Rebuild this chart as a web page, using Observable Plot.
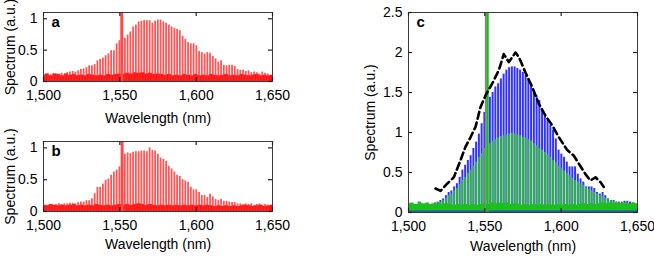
<!DOCTYPE html>
<html><head><meta charset="utf-8">
<script src="https://cdn.jsdelivr.net/npm/d3@7"></script>
<script src="https://cdn.jsdelivr.net/npm/@observablehq/plot@0.6"></script>
<style>
html,body{margin:0;padding:0;background:#fff;}
#wrap{position:relative;width:654px;height:257px;overflow:hidden;}
.panel{position:absolute;}
.panel svg{overflow:visible;}
</style></head><body><div id="wrap"></div>
<script>
// ---------- data ----------
const xTicks = [1500, 1550, 1600, 1650];
const yTicksAB = [0, 0.5, 1];
const yTicksC = [0, 0.5, 1, 1.5, 2, 2.5];
const xLabel = "Wavelength (nm)";
const yLabel = "Spectrum (a.u.)";

// comb line wavelengths (nm), pump excluded
const combWl = [1501.1,1502.9,1504.7,1506.5,1508.3,1510.1,1511.9,1513.7,1515.5,1517.3,1519.1,1520.9,1522.7,1524.5,1526.3,1528.1,1529.9,1531.7,1533.5,1535.3,1537.1,1538.9,1540.7,1542.5,1544.3,1546.1,1547.9,1549.7,
1553.3,1555.1,1556.9,1558.7,1560.5,1562.3,1564.1,1565.9,1567.7,1569.5,1571.3,1573.1,1574.9,
1576.7,1578.5,1580.3,1582.1,1583.9,1585.7,1587.5,1589.3,1591.1,1592.9,1594.7,1596.5,1598.3,1600.1,1601.9,1603.7,1605.5,1607.3,1609.1,1610.9,1612.7,1614.5,1616.3,1618.1,1619.9,1621.7,1623.5,1625.3,1627.1,1628.9,1630.7,1632.5,1634.3,1636.1,1637.9,1639.7,1641.5,1643.3,1645.1,1646.9];

const combA = [0.11,0.12,0.11,0.13,0.12,0.12,0.13,0.12,0.14,0.15,0.16,0.15,0.17,0.19,0.2,0.22,0.25,0.25,0.27,0.33,0.35,0.37,0.41,0.44,0.49,0.49,0.6,0.65,
0.69,0.74,0.79,0.87,0.9,0.95,0.96,0.97,0.97,0.97,0.93,0.96,0.98,
0.98,0.95,0.93,0.9,0.87,0.85,0.83,0.81,0.72,0.67,0.62,0.6,0.6,0.57,0.48,0.46,0.44,0.46,0.45,0.4,0.36,0.31,0.33,0.26,0.25,0.26,0.26,0.24,0.19,0.18,0.18,0.16,0.17,0.14,0.15,0.14,0.12,0.15,0.13,0.12];

const combB = [0.1,0.1,0.11,0.1,0.11,0.12,0.11,0.12,0.12,0.13,0.13,0.12,0.14,0.15,0.15,0.17,0.17,0.2,0.28,0.38,0.38,0.43,0.49,0.51,0.57,0.62,0.65,0.7,
0.9,0.92,0.91,0.93,0.94,0.94,0.95,0.95,0.94,1.0,0.96,0.95,0.9,
0.84,0.82,0.79,0.71,0.67,0.62,0.57,0.55,0.5,0.48,0.46,0.38,0.34,0.34,0.3,0.25,0.25,0.22,0.27,0.23,0.19,0.17,0.19,0.16,0.16,0.15,0.14,0.14,0.12,0.12,0.11,0.12,0.11,0.12,0.1,0.11,0.12,0.1,0.11,0.1];

const combCBlue = [0.06,0.06,0.07,0.07,0.08,0.08,0.09,0.1,0.1,0.12,0.13,0.15,0.17,0.21,0.25,0.27,0.32,0.36,0.44,0.53,0.59,0.65,0.71,0.8,0.88,0.98,1.11,1.25,
1.44,1.5,1.57,1.61,1.67,1.73,1.78,1.81,1.82,1.82,1.8,1.78,1.75,
1.72,1.67,1.61,1.5,1.46,1.4,1.3,1.21,1.15,1.09,1.03,0.92,0.78,0.73,0.69,0.63,0.57,0.57,0.57,0.48,0.42,0.38,0.32,0.32,0.32,0.3,0.25,0.23,0.25,0.21,0.17,0.15,0.15,0.13,0.13,0.13,0.14,0.14,0.13,0.12];

const combCGreen = [0.08,0.09,0.08,0.09,0.1,0.09,0.1,0.1,0.11,0.11,0.12,0.13,0.15,0.18,0.21,0.23,0.27,0.3,0.35,0.4,0.44,0.49,0.53,0.58,0.63,0.69,0.74,0.8,
0.86,0.89,0.91,0.93,0.95,0.96,0.97,0.98,0.99,0.98,0.97,0.96,0.94,
0.93,0.91,0.89,0.86,0.83,0.8,0.78,0.75,0.72,0.69,0.65,0.62,0.58,0.55,0.52,0.49,0.46,0.43,0.4,0.38,0.36,0.34,0.31,0.29,0.27,0.25,0.23,0.21,0.2,0.18,0.17,0.15,0.14,0.13,0.12,0.12,0.11,0.11,0.1,0.1];

// noise floor (sampled every 2.5 nm)
const noiseWl = [1500,1502.5,1505,1507.5,1510,1512.5,1515,1517.5,1520,1522.5,1525,1527.5,1530,1532.5,1535,1537.5,1540,1542.5,1545,1547.5,1550,1552.5,1555,1557.5,1560,1562.5,1565,1567.5,1570,1572.5,1575,1577.5,1580,1582.5,1585,1587.5,1590,1592.5,1595,1597.5,1600,1602.5,1605,1607.5,1610,1612.5,1615,1617.5,1620,1622.5,1625,1627.5,1630,1632.5,1635,1637.5,1640,1642.5,1645,1647.5,1650];
const noiseA = [0.1,0.12,0.09,0.12,0.11,0.09,0.12,0.1,0.11,0.09,0.1,0.09,0.11,0.1,0.09,0.1,0.09,0.11,0.1,0.11,0.12,0.12,0.13,0.12,0.14,0.13,0.14,0.12,0.13,0.11,0.12,0.11,0.1,0.11,0.09,0.1,0.09,0.11,0.1,0.09,0.11,0.09,0.1,0.09,0.11,0.1,0.09,0.1,0.11,0.09,0.1,0.09,0.11,0.1,0.09,0.1,0.11,0.09,0.1,0.09,0.1];
const noiseB = [0.1,0.09,0.11,0.1,0.09,0.1,0.09,0.1,0.11,0.09,0.1,0.09,0.1,0.09,0.11,0.1,0.09,0.1,0.09,0.1,0.11,0.1,0.11,0.1,0.11,0.12,0.11,0.1,0.11,0.1,0.09,0.1,0.09,0.1,0.09,0.1,0.09,0.1,0.09,0.1,0.09,0.1,0.09,0.1,0.09,0.08,0.09,0.08,0.09,0.08,0.09,0.08,0.09,0.1,0.09,0.08,0.09,0.1,0.08,0.09,0.1];
const noiseC = [0.11,0.12,0.1,0.13,0.11,0.12,0.1,0.11,0.12,0.1,0.11,0.1,0.09,0.1,0.09,0.1,0.09,0.1,0.09,0.1,0.11,0.1,0.12,0.11,0.12,0.11,0.12,0.1,0.11,0.1,0.09,0.1,0.09,0.1,0.09,0.1,0.09,0.1,0.09,0.1,0.09,0.1,0.09,0.1,0.09,0.1,0.11,0.1,0.11,0.1,0.11,0.12,0.11,0.12,0.11,0.12,0.11,0.12,0.11,0.12,0.11];
const blueFloorWl = [1500, 1650];
const blueFloor = [0.02, 0.02];

// pumps
const pumpA = [1551.3];
const pumpB = [1551.5];
const pumpCGreen = [1551.7];
const pumpCGray = [1550.4];

// dashed envelope in c
const envWl = [1517.7,1521,1525.3,1529.7,1534,1537.3,1540.6,1543.9,1547.2,1550.9,1554.8,1559.2,1562.4,1565.7,1570.1,1572.3,1573.3,1576.6,1581,1585.4,1589.7,1594.1,1598.5,1604,1608.3,1611.6,1615.9,1619.2,1622.5,1625.7,1627.9];
const envC = [0.3,0.27,0.36,0.44,0.65,0.82,0.94,1.07,1.32,1.48,1.61,1.78,1.98,1.88,2.0,1.94,1.9,1.75,1.57,1.36,1.21,1.09,0.94,0.78,0.71,0.61,0.48,0.4,0.44,0.38,0.32];

// ---------- drawing ----------
const font = "'Liberation Sans', Arial, Helvetica, sans-serif";
const fmtX = d3.format(",");
const fmtY = d => String(d);
const zip = (xs, ys) => xs.map((x, i) => ({x, y: ys[i]}));

function panel({left, top, width, height, mL, mR, mT, mB, yDomain, yTicks, letter, data, xPad, yLabDx, xLabDy}) {
  const fw = width - mL - mR, fh = height - mT - mB;
  const svg = Plot.plot({
    width, height, marginLeft: mL, marginRight: mR, marginTop: mT, marginBottom: mB,
    x: {domain: [1500, 1650]},
    y: {domain: yDomain},
    style: {fontFamily: font, fontSize: "14px", color: "#000", background: "transparent"},
    marks: [
      ...data,
      Plot.frame({stroke: "#3a3a3a", strokeWidth: 1}),
      Plot.tickX(xTicks, {x: d => d, insetTop: fh - 4, stroke: "#222", strokeWidth: 1.2}),
      Plot.tickX(xTicks, {x: d => d, insetBottom: fh - 4, stroke: "#222", strokeWidth: 1.2}),
      Plot.tickY(yTicks, {y: d => d, insetRight: fw - 4, stroke: "#222", strokeWidth: 1.2}),
      Plot.tickY(yTicks, {y: d => d, insetLeft: fw - 4, stroke: "#222", strokeWidth: 1.2}),
      Plot.axisX({ticks: xTicks, tickFormat: fmtX, tickSize: 0, tickPadding: xPad, label: null, fill: "#000"}),
      Plot.axisY({ticks: yTicks, tickFormat: fmtY, tickSize: 0, tickPadding: 6, label: null, fill: "#000"}),
      Plot.text([xLabel], {text: d => d, frameAnchor: "bottom", textAnchor: "middle", lineAnchor: "middle", dy: xLabDy, fill: "#000"}),
      Plot.text([yLabel], {text: d => d, frameAnchor: "left", textAnchor: "middle", lineAnchor: "middle", dx: yLabDx, rotate: -90, fill: "#000"}),
      Plot.text([letter], {text: d => d, frameAnchor: "top-left", textAnchor: "start", lineAnchor: "top", dx: 8, dy: 4, fontWeight: "bold", fontSize: 15, fill: "#000"})
    ]
  });
  const div = document.createElement("div");
  div.className = "panel";
  div.style.left = left + "px";
  div.style.top = top + "px";
  div.appendChild(svg);
  document.getElementById("wrap").appendChild(div);
}

function redPanel(comb, noise, pump, yTop) {
  return [
    Plot.areaY(zip(noiseWl, noise), {x: "x", y: "y", curve: "step", fill: "#ff1010"}),
    Plot.ruleX(zip(combWl, comb), {x: "x", y1: 0, y2: "y", stroke: "#ff2a2a", strokeOpacity: 0.8, strokeWidth: 1.8}),
    Plot.ruleX(pump, {x: d => d, y1: 0, y2: yTop, stroke: "#ff4848", strokeWidth: 3, clip: true})
  ];
}

panel({left: 0, top: 0, width: 280, height: 125, mL: 43, mR: 8, mT: 12, mB: 44,
  yDomain: [0, 1.1], yTicks: yTicksAB, letter: "a", xPad: 9, yLabDx: -33, xLabDy: 37,
  data: redPanel(combA, noiseA, pumpA, 1.1)});

panel({left: 0, top: 128, width: 280, height: 129, mL: 43, mR: 8, mT: 13, mB: 46,
  yDomain: [0, 1.1], yTicks: yTicksAB, letter: "b", xPad: 9, yLabDx: -33, xLabDy: 33,
  data: redPanel(combB, noiseB, pumpB, 1.1)});

panel({left: 340, top: 0, width: 314, height: 257, mL: 68, mR: 17, mT: 12, mB: 45,
  yDomain: [0, 2.5], yTicks: yTicksC, letter: "c", xPad: 9, yLabDx: -38, xLabDy: 34,
  data: [
    Plot.ruleX(zip(combWl, combCBlue), {x: "x", y1: 0, y2: "y", stroke: "#1c1cff", strokeOpacity: 0.9, strokeWidth: 2}),
    Plot.ruleX(zip(combWl, combCGreen), {x: "x", y1: 0, y2: "y", stroke: "#2ec42e", strokeOpacity: 0.85, strokeWidth: 1.9}),
    Plot.areaY(zip(noiseWl, noiseC), {x: "x", y: "y", curve: "step", fill: "#1cbf1c"}),
    Plot.areaY(zip(blueFloorWl, blueFloor), {x: "x", y: "y", fill: "#2a2aff", fillOpacity: 0.7}),
    Plot.ruleX(pumpCGray, {x: d => d, y1: 0, y2: 2.5, stroke: "#8a8a8a", strokeWidth: 1.2}),
    Plot.ruleX(pumpCGreen, {x: d => d, y1: 0, y2: 2.5, stroke: "#22b422", strokeWidth: 2.6}),
    Plot.line(zip(envWl, envC), {x: "x", y: "y", stroke: "#000", strokeWidth: 2.6, strokeDasharray: "7,4"})
  ]});
</script></body></html>
